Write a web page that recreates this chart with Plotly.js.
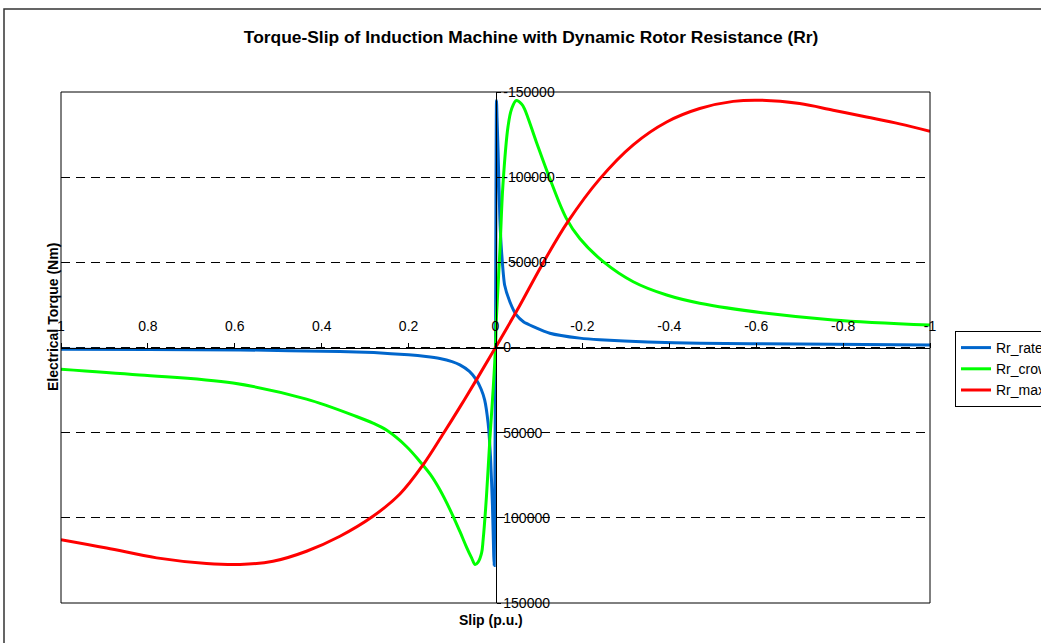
<!DOCTYPE html>
<html>
<head>
<meta charset="utf-8">
<script src="https://cdn.plot.ly/plotly-3.0.1.min.js"></script>
<style>html,body{margin:0;padding:0;background:#fff;}#chart{width:1041px;height:643px;}</style>
</head>
<body>
<div id="chart"></div>
<script>
// Slip (p.u.) and electrical torque (Nm)
var slipRated   = [1.0, 0.8, 0.588, 0.358, 0.28, 0.2, 0.16, 0.128, 0.1, 0.082, 0.06, 0.044, 0.033, 0.025, 0.017, 0.0115, 0.007, 0.004, 0.003, 0.0015, 0.0,
                   -0.001, -0.0023, -0.0035, -0.006, -0.01, -0.014, -0.021, -0.033, -0.048, -0.065, -0.087, -0.125, -0.194, -0.24, -0.35, -0.47, -0.7, -1.0];
var torqueRated = [1000, 1200, 1400, 2400, 3000, 4300, 5300, 6500, 8300, 10200, 14000, 19000, 24500, 30700, 44400, 64000, 93000, 122600, 128000, 85000, 0,
                   -85000, -145000, -135000, -114800, -75800, -56200, -36700, -26900, -19100, -15000, -12300, -8400, -5500, -4500, -3300, -2500, -2000, -1500];

var slipCrowbar   = [1.0, 0.819, 0.604, 0.435, 0.32, 0.282, 0.251, 0.205, 0.174, 0.15, 0.128, 0.105, 0.082, 0.067, 0.055, 0.047, 0.040, 0.032, 0.0285, 0.0207, 0.013, 0.0055, 0.0,
                     -0.002, -0.01, -0.017, -0.029, -0.037, -0.048, -0.06, -0.067, -0.094, -0.125, -0.163, -0.194, -0.248, -0.317, -0.394, -0.47, -0.624, -0.777, -1.0];
var torqueCrowbar = [12700, 16100, 20900, 30300, 40500, 44400, 48500, 58100, 66900, 74500, 83500, 95000, 108000, 117000, 123500, 127400, 126000, 120600, 113000, 87000, 54000, 25000, 0,
                     -17000, -56000, -95000, -130000, -140000, -145000, -143000, -140000, -120700, -99200, -75800, -64000, -50400, -38600, -30800, -26000, -20100, -16200, -13200];

var slipMax   = [1.0, 0.895, 0.78, 0.665, 0.588, 0.512, 0.435, 0.358, 0.282, 0.22, 0.167, 0.12, 0.082, 0.044, 0.0,
                 -0.05, -0.107, -0.167, -0.24, -0.317, -0.394, -0.47, -0.547, -0.608, -0.7, -0.777, -0.854, -0.93, -1.0];
var torqueMax = [112800, 117700, 123500, 126800, 127400, 125500, 119600, 110800, 99100, 86000, 69000, 50500, 35000, 19000, 0,
                 -22000, -48500, -74000, -99000, -119000, -132400, -140300, -144500, -145200, -143200, -139300, -135300, -131300, -127000];

var seriesNames = ["Rr_rated", "Rr_crowbar", "Rr_max"];
var seriesColors = ["#0066CC", "#00FF00", "#FF0000"];

var xTickVals = [1, 0.8, 0.6, 0.4, 0.2, 0, -0.2, -0.4, -0.6, -0.8, -1];
var xTickText = ["1", "0.8", "0.6", "0.4", "0.2", "0", "-0.2", "-0.4", "-0.6", "-0.8", "-1"];
var yTickVals = [-150000, -100000, -50000, 0, 50000, 100000, 150000];
var yTickText = ["-150000", "-100000", "-50000", "0", "50000", "100000", "150000"];

var FONT = "Liberation Sans, Arial, Helvetica, sans-serif";

var xs = [slipRated, slipCrowbar, slipMax];
var ys = [torqueRated, torqueCrowbar, torqueMax];
var smooth = [0.5, 1.0, 1.0];
var traces = xs.map(function (x, i) {
  return {
    x: x, y: ys[i], type: "scatter", mode: "lines", name: seriesNames[i],
    line: {color: seriesColors[i], width: 3, shape: "spline", smoothing: smooth[i]}
  };
});

var layout = {
  width: 1041, height: 643,
  margin: {l: 61, r: 111, t: 92, b: 40, autoexpand: false},
  paper_bgcolor: "#ffffff", plot_bgcolor: "#ffffff",
  font: {family: FONT, size: 14, color: "#000"},
  title: {
    text: "<b>Torque-Slip of Induction Machine with Dynamic Rotor Resistance (Rr)</b>",
    font: {family: FONT, size: 17.4, color: "#000"},
    xref: "paper", x: 0.541, xanchor: "center",
    yref: "container", y: 1 - 37/643, yanchor: "middle"
  },
  xaxis: {
    range: [1, -1], anchor: "free", position: 0.5, side: "top",
    showline: true, linecolor: "#000", linewidth: 1,
    showgrid: false, zeroline: false,
    ticks: "outside", ticklen: 5, tickcolor: "#000",
    tickmode: "array", tickvals: xTickVals, ticktext: xTickText,
    ticklabelstandoff: 6,
    tickfont: {family: FONT, size: 14, color: "#000"}
  },
  yaxis: {
    range: [150000, -150000], anchor: "free", position: 0.5, side: "right",
    showline: true, linecolor: "#000", linewidth: 1,
    showgrid: true, gridcolor: "#000", gridwidth: 1, griddash: "9px,6px",
    zeroline: false,
    ticks: "outside", ticklen: 4, tickcolor: "#000",
    tickmode: "array", tickvals: yTickVals, ticktext: yTickText,
    tickfont: {family: FONT, size: 14, color: "#000"}
  },
  showlegend: true,
  legend: {
    x: (955 - 61) / 869, xanchor: "left", y: (603 - 331) / 511, yanchor: "top",
    bgcolor: "#ffffff", bordercolor: "#000", borderwidth: 1,
    font: {family: FONT, size: 14, color: "#000"},
    itemwidth: 30, tracegroupgap: 0
  },
  shapes: [
    {type: "rect", xref: "paper", yref: "paper", x0: 0, x1: 1, y0: 0, y1: 1,
     line: {color: "#000", width: 1}, fillcolor: "rgba(0,0,0,0)", layer: "above"},
    {type: "rect", xref: "paper", yref: "paper",
     x0: (4 - 61) / 869, x1: (1060 - 61) / 869, y0: (603 - 660) / 511, y1: (603 - 9) / 511,
     line: {color: "#333", width: 1.5}, fillcolor: "rgba(0,0,0,0)", layer: "below"}
  ],
  annotations: [
    {text: "<b>Slip (p.u.)</b>", xref: "paper", yref: "paper",
     x: (491 - 61) / 869, y: (603 - 620) / 511, xanchor: "center", yanchor: "middle",
     showarrow: false, font: {family: FONT, size: 14, color: "#000"}},
    {text: "<b>Electrical Torque (Nm)</b>", xref: "paper", yref: "paper",
     x: (53 - 61) / 869, y: (603 - 317) / 511, xanchor: "center", yanchor: "middle",
     textangle: -90, showarrow: false, font: {family: FONT, size: 14, color: "#000"}}
  ]
};

Plotly.newPlot("chart", traces, layout, {displayModeBar: false, staticPlot: true});
</script>
</body>
</html>
